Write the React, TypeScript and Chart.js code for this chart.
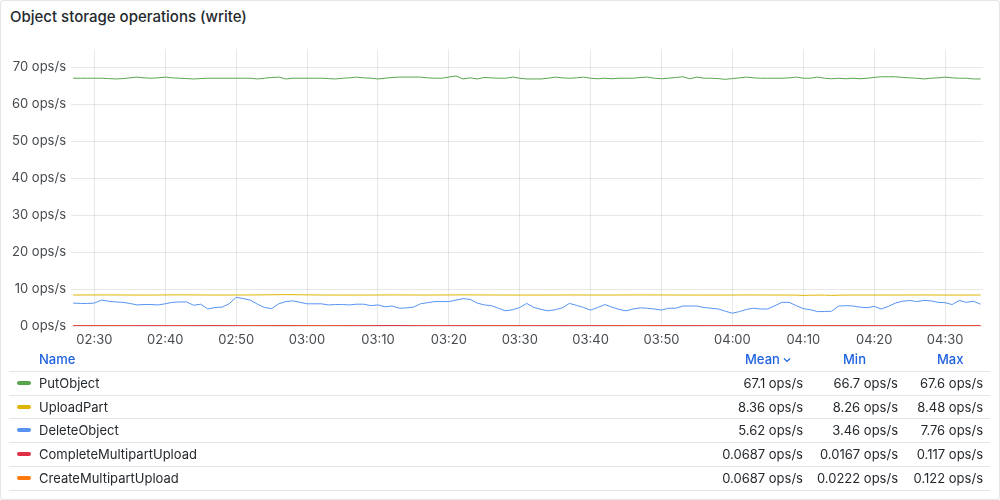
import { useEffect, useRef } from 'react';
import { Chart, registerables } from 'chart.js';

Chart.register(...registerables);

// time axis is in minutes since midnight, one sample per minute from 02:27
const START_MINUTE = 147;

const TICK_MINUTES = [150, 160, 170, 180, 190, 200, 210, 220, 230, 240, 250, 260, 270];
const TICK_LABELS = ['02:30', '02:40', '02:50', '03:00', '03:10', '03:20', '03:30', '03:40', '03:50', '04:00', '04:10', '04:20', '04:30'];
const Y_TICKS = [0, 10, 20, 30, 40, 50, 60, 70];

const PUT_OBJECT = [
  67.0, 67.0, 67.0, 67.0, 67.0, 66.9, 66.8, 66.9, 67.1, 67.3,
  67.1, 67.0, 67.1, 67.3, 67.1, 67.0, 66.9, 66.8, 66.9, 67.0,
  67.0, 67.0, 67.0, 67.0, 67.0, 67.0, 66.8, 67.0, 67.2, 67.3,
  66.8, 67.0, 67.0, 67.0, 67.0, 67.0, 66.9, 66.8, 67.0, 67.1,
  67.3, 67.1, 67.0, 66.8, 67.0, 67.2, 67.3, 67.3, 67.3, 67.3,
  67.1, 67.0, 67.0, 67.3, 67.6, 66.8, 67.1, 66.8, 67.2, 67.1,
  67.0, 67.0, 67.3, 67.0, 66.8, 66.8, 66.8, 67.0, 67.3, 67.1,
  67.0, 67.1, 67.3, 67.0, 66.85, 67.0, 66.85, 67.0, 67.0, 67.0,
  67.2, 67.3, 67.0, 66.85, 67.0, 67.2, 67.4, 66.85, 67.3, 67.0,
  67.0, 66.9, 66.7, 66.9, 67.1, 67.3, 67.1, 67.0, 67.0, 67.0,
  67.0, 67.1, 67.3, 67.0, 67.0, 67.3, 67.0, 66.85, 67.0, 66.85,
  67.0, 66.85, 67.0, 67.2, 67.4, 67.4, 67.4, 67.2, 67.1, 67.0,
  66.8, 67.0, 67.1, 67.3, 67.1, 67.0, 67.0, 66.8, 66.8,
];

const DELETE_OBJECT = [
  6.2, 6.1, 6.1, 6.2, 7.0, 6.7, 6.5, 6.4, 6.1, 5.7,
  5.8, 5.8, 5.7, 6.0, 6.4, 6.5, 6.5, 5.6, 5.9, 4.6,
  5.0, 5.1, 6.0, 7.76, 7.4, 7.0, 5.9, 5.0, 4.7, 6.0,
  6.6, 6.8, 6.4, 6.0, 6.0, 6.0, 5.7, 5.8, 5.8, 5.7,
  5.9, 5.9, 5.5, 5.7, 5.2, 5.4, 4.8, 4.9, 5.1, 6.0,
  6.3, 6.6, 6.6, 6.6, 7.0, 7.4, 7.2, 6.2, 5.7, 5.5,
  4.8, 4.1, 4.4, 5.0, 6.1, 5.0, 4.5, 4.1, 4.4, 4.9,
  6.1, 5.6, 5.0, 4.3, 5.0, 5.8, 5.1, 4.5, 4.1, 4.6,
  4.9, 4.8, 4.6, 4.3, 4.8, 4.8, 5.4, 5.4, 5.4, 5.0,
  4.8, 4.6, 4.0, 3.46, 3.9, 4.5, 4.8, 4.6, 4.6, 5.5,
  6.4, 6.4, 5.5, 4.7, 4.4, 3.9, 3.9, 4.0, 5.4, 5.5,
  5.4, 5.1, 4.95, 5.3, 4.6, 5.3, 6.2, 6.7, 6.9, 6.6,
  6.9, 6.8, 6.4, 6.3, 5.8, 6.9, 6.4, 6.7, 5.9,
];

// UploadPart is almost flat, sampled where it changes
const UPLOAD_MINUTES = [
  147, 152, 157, 162, 167, 172, 177, 182, 187, 192,
  197, 202, 207, 212, 217, 222, 227, 232, 237, 242,
  247, 249, 250, 251, 253, 254, 255, 257, 262, 267,
  272, 275,
];
const UPLOAD_PART = [
  8.38, 8.40, 8.36, 8.42, 8.37, 8.39, 8.48, 8.38, 8.36, 8.40,
  8.37, 8.41, 8.38, 8.36, 8.39, 8.37, 8.40, 8.38, 8.36, 8.39,
  8.37, 8.36, 8.26, 8.33, 8.36, 8.27, 8.34, 8.38, 8.37, 8.39,
  8.36, 8.38,
];

// multipart series sit on the zero line, five minute samples
const MULTIPART_MINUTES = [
  147, 152, 157, 162, 167, 172, 177, 182, 187, 192,
  197, 202, 207, 212, 217, 222, 227, 232, 237, 242,
  247, 252, 257, 262, 267, 272, 275,
];
const COMPLETE_MULTIPART = [
  0.07, 0.05, 0.09, 0.06, 0.10, 0.04, 0.08, 0.0167, 0.07, 0.117,
  0.06, 0.08, 0.05, 0.07, 0.09, 0.06, 0.03, 0.08, 0.07, 0.10,
  0.05, 0.06, 0.08, 0.07, 0.09, 0.05, 0.07,
];
const CREATE_MULTIPART = [
  0.06, 0.08, 0.0222, 0.07, 0.09, 0.05, 0.122, 0.07, 0.06, 0.08,
  0.05, 0.07, 0.09, 0.06, 0.04, 0.08, 0.07, 0.10, 0.05, 0.06,
  0.08, 0.07, 0.09, 0.05, 0.07, 0.06, 0.08,
];

const SERIES_NAMES = ['PutObject', 'UploadPart', 'DeleteObject', 'CompleteMultipartUpload', 'CreateMultipartUpload'];
const SERIES_COLORS = ['#56A64B', '#E0B400', '#5794F2', '#E02F44', '#FF780A'];
const MEAN_LABELS = ['67.1 ops/s', '8.36 ops/s', '5.62 ops/s', '0.0687 ops/s', '0.0687 ops/s'];
const MIN_LABELS = ['66.7 ops/s', '8.26 ops/s', '3.46 ops/s', '0.0167 ops/s', '0.0222 ops/s'];
const MAX_LABELS = ['67.6 ops/s', '8.48 ops/s', '7.76 ops/s', '0.117 ops/s', '0.122 ops/s'];

const TEXT = 'rgb(36, 41, 46)';
const AXIS_TEXT = 'rgba(36, 41, 46, 0.85)';
const LINK = '#1F62E0';
const GRID = 'rgba(36, 41, 46, 0.11)';
const DIVIDER = 'rgba(36, 41, 46, 0.12)';
const FONT = 'Inter, "Noto Sans", sans-serif';

const perMinute = (values: number[]) => values.map((y, i) => ({ x: START_MINUTE + i, y }));
const atMinutes = (minutes: number[], values: number[]) => values.map((y, i) => ({ x: minutes[i], y }));

function OpsChart() {
  const canvasRef = useRef<HTMLCanvasElement>(null);
  const chartRef = useRef<Chart | null>(null);

  useEffect(() => {
    if (!canvasRef.current) return;
    if (chartRef.current) chartRef.current.destroy();

    const line = (i: number, data: { x: number; y: number }[]) => ({
      label: SERIES_NAMES[i],
      data,
      borderColor: SERIES_COLORS[i],
      backgroundColor: SERIES_COLORS[i],
      borderWidth: 1,
      pointRadius: 0,
      tension: 0,
      fill: false,
    });

    chartRef.current = new Chart(canvasRef.current, {
      type: 'line',
      data: {
        datasets: [
          line(0, perMinute(PUT_OBJECT)),
          line(1, atMinutes(UPLOAD_MINUTES, UPLOAD_PART)),
          line(2, perMinute(DELETE_OBJECT)),
          line(3, atMinutes(MULTIPART_MINUTES, COMPLETE_MULTIPART)),
          line(4, atMinutes(MULTIPART_MINUTES, CREATE_MULTIPART)),
        ],
      },
      options: {
        animation: false,
        responsive: true,
        maintainAspectRatio: false,
        layout: { padding: { top: 19, right: 17, left: 0, bottom: 0 } },
        plugins: {
          legend: { display: false },
          tooltip: { enabled: false },
        },
        scales: {
          x: {
            type: 'linear',
            min: 146.7,
            max: 275.35,
            afterBuildTicks: (axis: any) => {
              axis.ticks = TICK_MINUTES.map((value) => ({ value }));
            },
            afterFit: (axis: any) => {
              axis.height = 24;
            },
            ticks: {
              autoSkip: false,
              maxRotation: 0,
              padding: 6,
              color: AXIS_TEXT,
              font: { family: FONT, size: 13 },
              callback: (v: any) => TICK_LABELS[TICK_MINUTES.indexOf(Number(v))] ?? '',
            },
            grid: { color: GRID, drawTicks: false },
            border: { display: false },
          },
          y: {
            min: 0,
            max: 74.9,
            afterBuildTicks: (axis: any) => {
              axis.ticks = Y_TICKS.map((value) => ({ value }));
            },
            afterFit: (axis: any) => {
              axis.width = 71;
            },
            ticks: {
              padding: 5,
              color: AXIS_TEXT,
              font: { family: FONT, size: 13 },
              callback: (v: any) => `${v} ops/s`,
            },
            grid: { color: GRID, drawTicks: false },
            border: { display: false },
          },
        },
      },
    });

    return () => {
      if (chartRef.current) {
        chartRef.current.destroy();
        chartRef.current = null;
      }
    };
  }, []);

  return (
    <div style={{ position: 'absolute', left: 0, top: 30, width: 1000, height: 320 }}>
      <canvas ref={canvasRef}></canvas>
    </div>
  );
}

const ROW_CENTERS = [383, 407, 430, 454, 478];
const DIVIDERS = [371, 395, 418, 442, 466, 490];

function LegendTable() {
  const cell = (top: number, style: React.CSSProperties, text: React.ReactNode, key: string) => (
    <div
      key={key}
      style={{
        position: 'absolute',
        top: top - 12,
        height: 24,
        lineHeight: '24px',
        whiteSpace: 'nowrap',
        ...style,
      }}
    >
      {text}
    </div>
  );

  return (
    <div style={{ fontFamily: FONT, fontSize: 13, color: TEXT }}>
      {cell(359, { left: 39, color: LINK, fontWeight: 500 }, 'Name', 'h-name')}
      {cell(
        359,
        { left: 745, color: LINK, fontWeight: 500 },
        <span>
          Mean
          <svg width="8" height="6" viewBox="0 0 8 6" style={{ marginLeft: 3, verticalAlign: 'middle' }}>
            <path d="M1 1.5 L4 4.5 L7 1.5" fill="none" stroke={LINK} strokeWidth="1.2" />
          </svg>
        </span>,
        'h-mean'
      )}
      {cell(359, { left: 843, color: LINK, fontWeight: 500 }, 'Min', 'h-min')}
      {cell(359, { left: 937, color: LINK, fontWeight: 500 }, 'Max', 'h-max')}

      {DIVIDERS.map((y) => (
        <div key={`d-${y}`} style={{ position: 'absolute', left: 9, width: 981, top: y, height: 1, background: DIVIDER }} />
      ))}

      {SERIES_NAMES.map((name, i) => (
        <div key={name}>
          <div
            style={{
              position: 'absolute',
              left: 17,
              top: ROW_CENTERS[i] - 2,
              width: 14,
              height: 4,
              borderRadius: 2,
              background: SERIES_COLORS[i],
            }}
          />
          {cell(ROW_CENTERS[i], { left: 39 }, name, `n-${i}`)}
          {cell(ROW_CENTERS[i], { right: 197, textAlign: 'right' }, MEAN_LABELS[i], `mean-${i}`)}
          {cell(ROW_CENTERS[i], { right: 102, textAlign: 'right' }, MIN_LABELS[i], `min-${i}`)}
          {cell(ROW_CENTERS[i], { right: 17, textAlign: 'right' }, MAX_LABELS[i], `max-${i}`)}
        </div>
      ))}
    </div>
  );
}

export default function App() {
  return (
    <div style={{ position: 'fixed', left: 0, top: 0, width: 1000, height: 500, background: '#fff', fontFamily: FONT }}>
      <div
        style={{
          position: 'absolute',
          left: 10,
          top: 7,
          fontSize: 15,
          fontWeight: 500,
          color: TEXT,
          lineHeight: '20px',
        }}
      >
        Object storage operations (write)
      </div>
      <OpsChart />
      <LegendTable />
      <div
        style={{
          position: 'absolute',
          inset: 0,
          border: '1px solid rgba(36, 41, 46, 0.12)',
          borderRadius: 3,
          pointerEvents: 'none',
        }}
      />
    </div>
  );
}
